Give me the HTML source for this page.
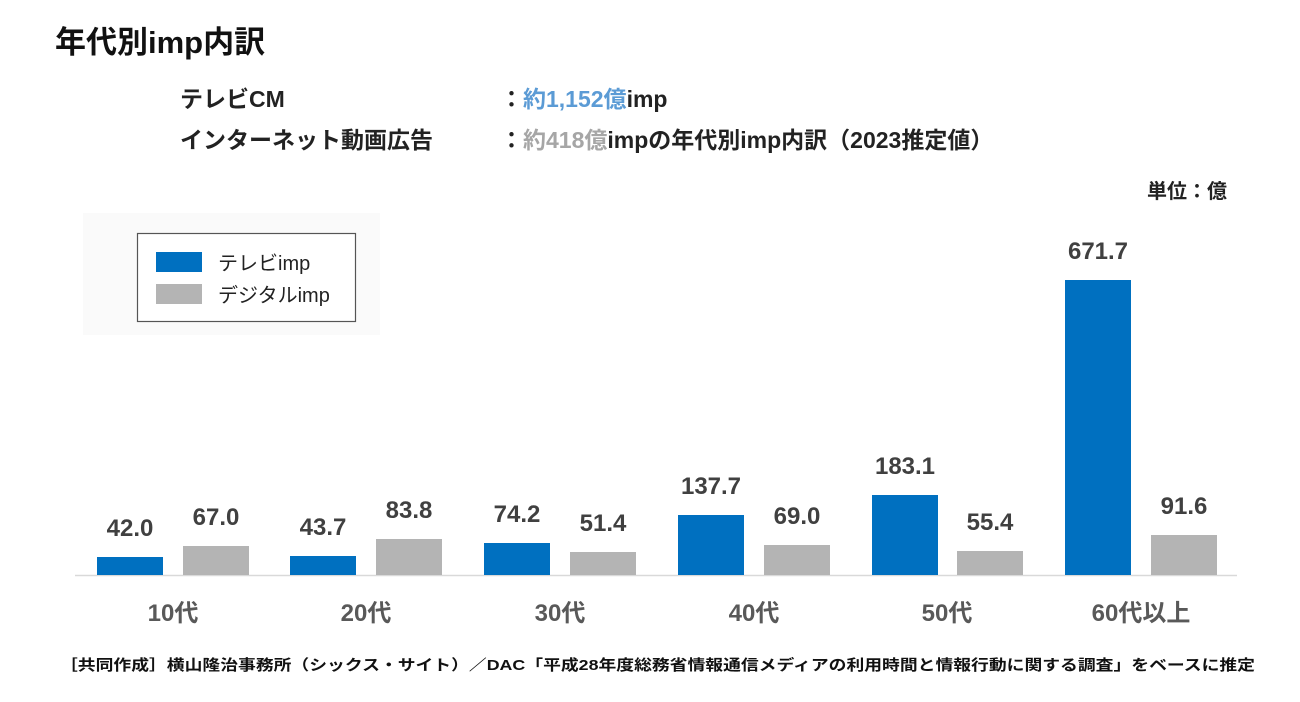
<!DOCTYPE html><html><head><meta charset="utf-8"><style>
body{margin:0;background:#fff;width:1300px;height:697px;overflow:hidden;font-family:"Liberation Sans","Noto Sans CJK JP",sans-serif;}
</style></head><body>
<svg width="1300" height="697" xmlns="http://www.w3.org/2000/svg" style="font-family:'Liberation Sans','Noto Sans CJK JP',sans-serif">
<text x="55" y="53" font-size="31" font-weight="bold" fill="#111">年代別imp内訳</text>
<text x="180" y="107" font-size="23" font-weight="bold" fill="#222">テレビCM</text>
<text x="500" y="107" font-size="23" font-weight="bold" fill="#222">：<tspan fill="#5b9bd5">約1,152億</tspan>imp</text>
<text x="180" y="148" font-size="23" font-weight="bold" fill="#222">インターネット動画広告</text>
<text x="500" y="148" font-size="23" font-weight="bold" fill="#222">：<tspan fill="#a6a6a6">約418億</tspan>impの年代別imp内訳（2023推定値）</text>
<text x="1227" y="198" font-size="20" font-weight="bold" fill="#222" text-anchor="end">単位：億</text>
<rect x="83" y="213" width="297" height="122" fill="#fafafa"/>
<rect x="137.5" y="233.5" width="218" height="88" fill="#fff" stroke="#555" stroke-width="1.2"/>
<rect x="156" y="252" width="46" height="20" fill="#0070c0"/>
<rect x="156" y="284" width="46" height="20" fill="#b4b4b4"/>
<text x="218" y="270" font-size="20" fill="#222">テレビimp</text>
<text x="218" y="302" font-size="20" fill="#222">デジタルimp</text>
<line x1="75" y1="575.5" x2="1237" y2="575.5" stroke="#d9d9d9" stroke-width="1.5"/>
<g font-size="24" font-weight="bold" fill="#404040" text-anchor="middle">
<rect x="97" y="557" width="66" height="18" fill="#0070c0"/><text x="130" y="536">42.0</text>
<rect x="183" y="546" width="66" height="29" fill="#b4b4b4"/><text x="216" y="525">67.0</text>
<rect x="290" y="556" width="66" height="19" fill="#0070c0"/><text x="323" y="535">43.7</text>
<rect x="376" y="539" width="66" height="36" fill="#b4b4b4"/><text x="409" y="518">83.8</text>
<rect x="484" y="543" width="66" height="32" fill="#0070c0"/><text x="517" y="522">74.2</text>
<rect x="570" y="552" width="66" height="23" fill="#b4b4b4"/><text x="603" y="531">51.4</text>
<rect x="678" y="515" width="66" height="60" fill="#0070c0"/><text x="711" y="494">137.7</text>
<rect x="764" y="545" width="66" height="30" fill="#b4b4b4"/><text x="797" y="524">69.0</text>
<rect x="872" y="495" width="66" height="80" fill="#0070c0"/><text x="905" y="474">183.1</text>
<rect x="957" y="551" width="66" height="24" fill="#b4b4b4"/><text x="990" y="530">55.4</text>
<rect x="1065" y="280" width="66" height="295" fill="#0070c0"/><text x="1098" y="259">671.7</text>
<rect x="1151" y="535" width="66" height="40" fill="#b4b4b4"/><text x="1184" y="514">91.6</text>
</g>
<g font-size="24" font-weight="bold" fill="#595959" text-anchor="middle">
<text x="173" y="621">10代</text><text x="366" y="621">20代</text><text x="560" y="621">30代</text>
<text x="754" y="621">40代</text><text x="947" y="621">50代</text><text x="1141" y="621">60代以上</text>
</g>
<text x="60" y="670" font-size="15" font-weight="bold" fill="#111" textLength="1195" lengthAdjust="spacingAndGlyphs">［共同作成］横山隆治事務所（シックス・サイト）／DAC「平成28年度総務省情報通信メディアの利用時間と情報行動に関する調査」をベースに推定</text>
</svg>
</body></html>
